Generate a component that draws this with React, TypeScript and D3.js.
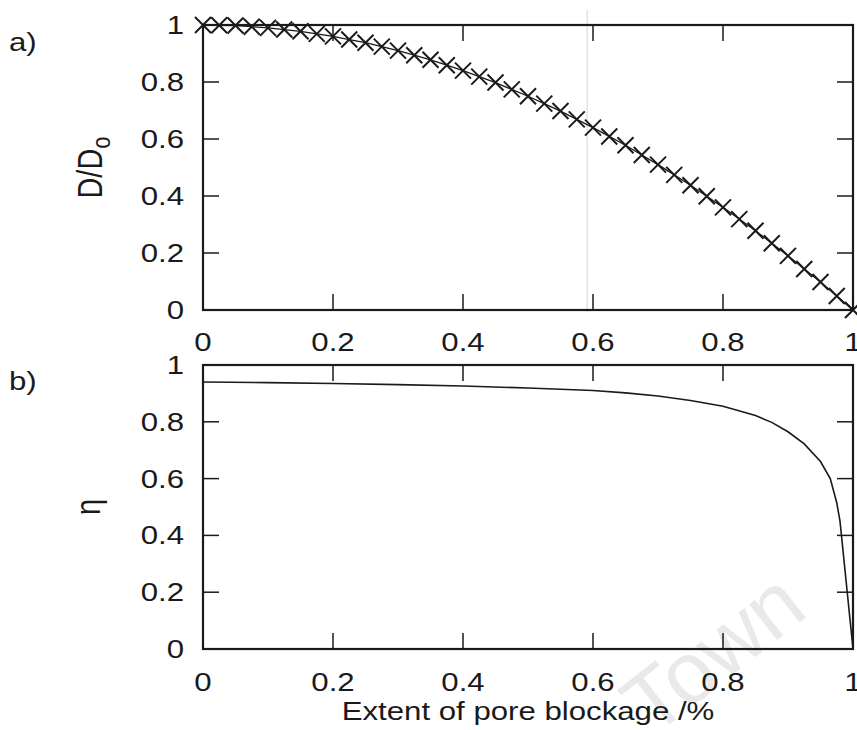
import React from "react";
import * as d3 from "d3";

// Panel a: relative diffusivity D/Do vs extent of pore blockage
const blockA = [0, 0.025, 0.05, 0.075, 0.1, 0.125, 0.15, 0.175, 0.2, 0.225, 0.25, 0.275, 0.3, 0.325, 0.35, 0.375, 0.4, 0.425, 0.45, 0.475, 0.5, 0.525, 0.55, 0.575, 0.6, 0.625, 0.65, 0.675, 0.7, 0.725, 0.75, 0.775, 0.8, 0.825, 0.85, 0.875, 0.9, 0.925, 0.95, 0.975, 1];
const diffRatio = [1, 0.999, 0.998, 0.994, 0.99, 0.984, 0.978, 0.969, 0.96, 0.949, 0.938, 0.924, 0.91, 0.894, 0.878, 0.859, 0.84, 0.819, 0.798, 0.774, 0.75, 0.724, 0.698, 0.669, 0.64, 0.609, 0.578, 0.544, 0.51, 0.474, 0.438, 0.399, 0.36, 0.319, 0.278, 0.234, 0.19, 0.144, 0.098, 0.049, 0];

// Panel b: effectiveness factor eta
const blockB = [0, 0.1, 0.2, 0.3, 0.4, 0.5, 0.6, 0.65, 0.7, 0.75, 0.8, 0.85, 0.875, 0.9, 0.925, 0.95, 0.965, 0.975, 0.98, 1];
const eta = [0.94, 0.938, 0.935, 0.931, 0.926, 0.919, 0.91, 0.902, 0.891, 0.875, 0.855, 0.822, 0.798, 0.765, 0.722, 0.66, 0.6, 0.515, 0.45, 0];

const xTicks = [0, 0.2, 0.4, 0.6, 0.8, 1];
const yTicks = [0, 0.2, 0.4, 0.6, 0.8, 1];
const xTickLabels = ["0", "0.2", "0.4", "0.6", "0.8", "1"];
const yTickLabels = ["0", "0.2", "0.4", "0.6", "0.8", "1"];

const W = 857;
const H = 730;
const FONT = "'Liberation Sans', Arial, Helvetica, sans-serif";
const SX = 1.2; // horizontal stretch of the scanned figure
const INK = "#1a1a1a";

const x = d3.scaleLinear().domain([0, 1]).range([203, 853]);
const yA = d3.scaleLinear().domain([0, 1]).range([310, 25]);
const yB = d3.scaleLinear().domain([0, 1]).range([649, 365]);

function Label({ tx, ty, anchor = "middle", size = 26, children, rotate = 0, fill = INK }: any) {
  return (
    <text
      transform={`translate(${tx},${ty}) scale(${SX},1)${rotate ? ` rotate(${rotate})` : ""}`}
      textAnchor={anchor}
      fontFamily={FONT}
      fontSize={size}
      fill={fill}
    >
      {children}
    </text>
  );
}

function Frame({ y, labelY }: any) {
  const [y0, y1] = [y(0), y(1)];
  const [x0, x1] = [x(0), x(1)];
  const tl = 16;
  return (
    <g>
      {xTicks.map((t) => (
        <g key={"xt" + t}>
          <line x1={x(t)} x2={x(t)} y1={y0} y2={y0 - tl} stroke={INK} strokeWidth={1.5} />
          <line x1={x(t)} x2={x(t)} y1={y1} y2={y1 + tl} stroke={INK} strokeWidth={1.5} />
        </g>
      ))}
      {yTicks.map((t) => (
        <g key={"yt" + t}>
          <line x1={x0} x2={x0 + tl} y1={y(t)} y2={y(t)} stroke={INK} strokeWidth={1.5} />
          <line x1={x1} x2={x1 - tl} y1={y(t)} y2={y(t)} stroke={INK} strokeWidth={1.5} />
        </g>
      ))}
      <rect x={x0} y={y1} width={x1 - x0} height={y0 - y1} fill="none" stroke={INK} strokeWidth={2.2} />
      {yTicks.map((t, i) => (
        <Label key={"yl" + t} tx={184} ty={y(t) + 9} anchor="end">
          {yTickLabels[i]}
        </Label>
      ))}
      {xTicks.map((t, i) => (
        <Label key={"xl" + t} tx={x(t)} ty={labelY}>
          {xTickLabels[i]}
        </Label>
      ))}
    </g>
  );
}

export default function App() {
  const lineA = d3
    .line<number>()
    .x((_, i) => x(blockA[i]))
    .y((d) => yA(d));
  const lineB = d3
    .line<number>()
    .x((_, i) => x(blockB[i]))
    .y((d) => yB(d));
  const ms = 8;
  return (
    <svg
      width={W}
      height={H}
      viewBox={`0 0 ${W} ${H}`}
      style={{ position: "absolute", left: 0, top: 0, display: "block", background: "#fff" }}
    >
      <rect width={W} height={H} fill="#fff" />
      {/* faint watermark */}
      <text
        transform="translate(652,738) rotate(-38)"
        fontFamily={FONT}
        fontSize={86}
        fill="#e9e9e9"
      >
        Town
      </text>
      {/* scan artifact line */}
      <line x1={x(0.591)} x2={x(0.591)} y1={10} y2={312} stroke="#d6d6d6" strokeWidth={1} />

      {/* Panel a */}
      <Frame y={yA} labelY={351} />
      <path d={lineA(diffRatio) || ""} fill="none" stroke={INK} strokeWidth={1.3} />
      {diffRatio.map((v, i) => {
        const cx = x(blockA[i]);
        const cy = yA(v);
        return (
          <path
            key={"m" + i}
            d={`M${cx - ms},${cy - ms}L${cx + ms},${cy + ms}M${cx - ms},${cy + ms}L${cx + ms},${cy - ms}`}
            stroke={INK}
            strokeWidth={2}
            fill="none"
          />
        );
      })}

      {/* Panel b */}
      <Frame y={yB} labelY={691} />
      <path d={lineB(eta) || ""} fill="none" stroke={INK} strokeWidth={1.6} />

      {/* axis titles */}
      <Label tx={102} ty={(yA(0) + yA(1)) / 2} rotate={-90} size={29}>
        D/D<tspan fontSize={22} dy={7}>o</tspan>
      </Label>
      <Label tx={100} ty={(yB(0) + yB(1)) / 2} rotate={-90} size={29}>
        η
      </Label>
      <Label tx={(x(0) + x(1)) / 2} ty={720} size={26}>
        Extent of pore blockage /%
      </Label>
      <Label tx={9} ty={51} anchor="start" size={26}>
        a)
      </Label>
      <Label tx={9} ty={390} anchor="start" size={26}>
        b)
      </Label>
    </svg>
  );
}
